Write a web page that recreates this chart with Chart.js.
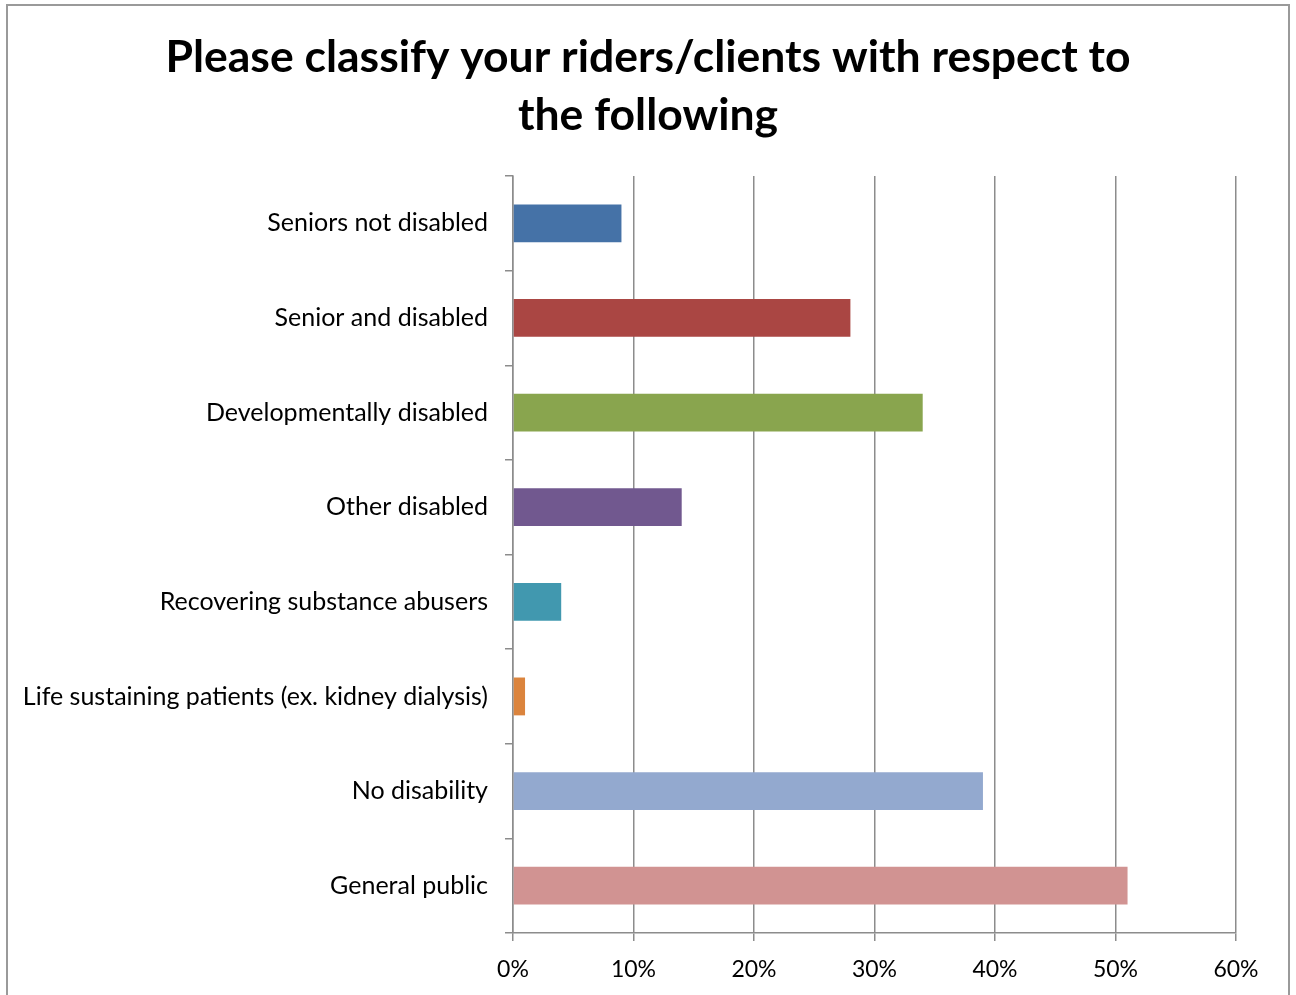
<!DOCTYPE html>
<html>
<head>
<meta charset="utf-8">
<script src="https://cdn.jsdelivr.net/npm/chart.js@4/dist/chart.umd.min.js"></script>
<style>
  body { margin: 0; background: #fff; overflow: hidden; }
  #wrap { position: relative; width: 1296px; height: 995px; }
  #marco { position: absolute; left: 6px; top: 4px; width: 1280px; height: 1010px; border: 2px solid #9a9a9a; pointer-events: none; }
  canvas { position: absolute; left: 0; top: 0; }
</style>
</head>
<body>
<div id="wrap">
  <canvas id="grafico" width="1296" height="995"></canvas>
  <div id="marco"></div>
</div>
<script>
// datos del grafico
const categorias = [
  "Seniors not disabled",
  "Senior and disabled",
  "Developmentally disabled",
  "Other disabled",
  "Recovering substance abusers",
  "Life sustaining patients (ex. kidney dialysis)",
  "No disability",
  "General public"
];
const valores = [9, 28, 34, 14, 4, 1, 39, 51];
const colores = ["#4572A7", "#AA4643", "#89A54E", "#71588F", "#4198AF", "#DB843D", "#93A9CF", "#D19392"];
const titulo = ["Please classify your riders/clients with respect to", "the following"];
const ejeMax = 60;
const pasoEje = 10;

const fuente = "Lato, 'Open Sans', sans-serif";
const gris = "#8c8c8c";

// titulo centrado en toda la caja (el plugin de Chart.js lo centra sobre el area sin padding)
const tituloPlugin = {
  id: 'tituloCentrado',
  afterDraw(chart) {
    const c = chart.ctx;
    c.save();
    c.fillStyle = '#000';
    c.font = "bold 44.5px " + fuente;
    c.textAlign = 'center';
    c.textBaseline = 'middle';
    titulo.forEach((linea, i) => c.fillText(linea, 648, 57.5 + i * 58.5));
    c.restore();
  }
};

const ctx = document.getElementById('grafico').getContext('2d');
new Chart(ctx, {
  type: 'bar',
  data: {
    labels: categorias,
    datasets: [{
      data: valores,
      backgroundColor: colores,
      borderWidth: 0,
      barPercentage: 0.8,
      categoryPercentage: 0.5
    }]
  },
  options: {
    indexAxis: 'y',
    responsive: false,
    animation: false,
    layout: { padding: { top: 176, right: 60, bottom: 0, left: 0 } },
    plugins: {
      legend: { display: false },
      tooltip: { enabled: false },
      title: { display: false }
    },
    scales: {
      x: {
        min: 0,
        max: ejeMax,
        ticks: {
          stepSize: pasoEje,
          color: '#000',
          font: { family: fuente, size: 23 },
          padding: 15,
          callback: v => v + '%'
        },
        grid: { color: gris, lineWidth: 1.5, tickLength: 8 },
        border: { color: gris, width: 1.5 },
        afterFit: s => { s.height = 62; }
      },
      y: {
        ticks: {
          color: '#000',
          font: { family: fuente, size: 25 },
          padding: 17
        },
        grid: { color: gris, lineWidth: 1.5, tickLength: 8, offset: true, drawOnChartArea: false },
        border: { color: gris, width: 1.5 },
        afterFit: s => { s.width = 513; }
      }
    }
  },
  plugins: [tituloPlugin]
});
</script>
</body>
</html>
